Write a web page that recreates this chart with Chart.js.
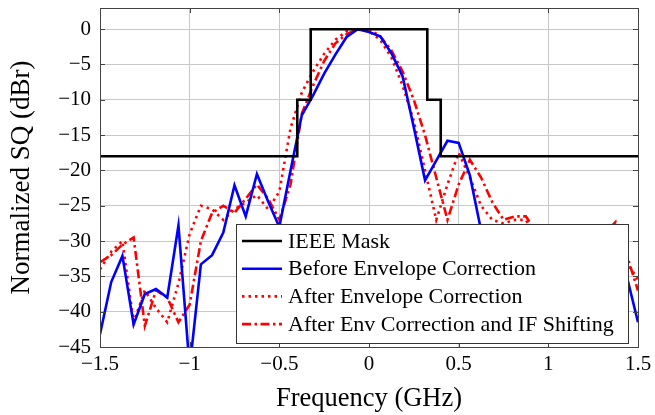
<!DOCTYPE html>
<html>
<head>
<meta charset="utf-8">
<script src="https://cdn.jsdelivr.net/npm/chart.js@4.4.1/dist/chart.umd.min.js"></script>
<style>
html, body { margin: 0; padding: 0; background: #fff; }
#wrap { width: 655px; height: 415px; }
</style>
</head>
<body>
<div id="wrap"><canvas id="chart" width="655" height="415"></canvas></div>
<script>
// frequency grid (GHz), one sample every 62.5 MHz
const freqs = [-1.5, -1.4375, -1.375, -1.3125, -1.25, -1.1875, -1.125, -1.0625,
  -1.0, -0.9375, -0.875, -0.8125, -0.75, -0.6875, -0.625, -0.5625,
  -0.5, -0.4375, -0.375, -0.3125, -0.25, -0.1875, -0.125, -0.0625,
  0, 0.0625, 0.125, 0.1875, 0.25, 0.3125, 0.375, 0.4375,
  0.5, 0.5625, 0.625, 0.6875, 0.75, 0.8125, 0.875, 0.9375,
  1.0, 1.0625, 1.125, 1.1875, 1.25, 1.3125, 1.375, 1.4375, 1.5]

const beforeEnv = [-43.2, -35.8, -32.1, -41.8, -37.5, -36.8, -38.0, -27.8,
  -48.0, -33.3, -32.0, -28.8, -22.1, -26.5, -20.5, -24.4,
  -28.0, -20.0, -12.2, -9.4, -6.3, -3.6, -1.1, 0.0,
  -0.4, -1.0, -3.4, -6.7, -13.9, -21.4, -18.6, -15.8,
  -16.1, -20.7, -28.5, -33.0, -35.0, -34.0, -36.0, -33.0,
  -35.0, -37.0, -34.0, -36.0, -35.0, -33.0, -32.0, -35.0, -41.5]

const afterEnv = [-34.0, -31.5, -30.0, -41.5, -37.0, -39.5, -41.5, -36.0,
  -29.0, -25.0, -25.5, -27.0, -25.5, -24.5, -23.5, -25.5,
  -23.0, -14.0, -9.0, -6.0, -3.5, -1.5, -0.3, 0.0,
  -0.3, -1.5, -4.0, -8.0, -13.0, -20.0, -27.0, -22.0,
  -17.5, -21.0, -25.0, -27.0, -27.5, -27.0, -27.0, -30.0,
  -31.0, -32.0, -31.0, -33.0, -32.0, -31.0, -30.0, -33.0, -35.5]

const afterEnvIf = [-33.0, -32.0, -30.5, -29.5, -42.0, -37.0, -38.0, -41.5,
  -39.0, -30.0, -26.0, -25.0, -26.0, -24.0, -22.0, -24.0,
  -27.0, -22.0, -12.0, -8.0, -4.5, -2.0, -0.7, 0.0,
  0.0, -1.0, -3.0, -6.0, -10.0, -15.0, -21.0, -27.0,
  -22.0, -18.5, -21.0, -24.5, -27.0, -26.5, -26.5, -29.0,
  -30.0, -31.0, -30.0, -31.0, -30.0, -29.0, -27.3, -32.0, -37.0]

// IEEE spectral mask corners
const maskFreq = [-1.5, -0.4, -0.4, -0.325, -0.325, 0.325, 0.325, 0.4, 0.4, 1.5]
const maskLevel = [-18, -18, -10, -10, 0, 0, -10, -10, -18, -18]

const xTicks = [-1.5, -1, -0.5, 0, 0.5, 1, 1.5]
const yTicks = [-45, -40, -35, -30, -25, -20, -15, -10, -5, 0]

const seriesNames = ['IEEE Mask', 'Before Envelope Correction',
  'After Envelope Correction', 'After Env Correction and IF Shifting']

const SERIF = '"Liberation Serif", "DejaVu Serif", serif'
const DOTS = [2.5, 4]
const DASHDOT = [9, 3.5, 2.5, 3.5]

const pts = (xs, ys) => xs.map((x, i) => ({x: x, y: ys[i]}))
const fmt = v => (v < 0 ? '\u2212' : '') + Math.abs(v)

// frame, inner tick marks and the boxed legend, drawn pgfplots-like
const framePlugin = {
  id: 'frame',
  afterDatasetsDraw(chart) {
    const {ctx, chartArea: a, scales} = chart
    ctx.save()
    ctx.strokeStyle = '#444'
    ctx.lineWidth = 1
    ctx.beginPath()
    xTicks.forEach(t => {
      const px = Math.round(scales.x.getPixelForValue(t)) + 0.5
      ctx.moveTo(px, a.bottom); ctx.lineTo(px, a.bottom - 5)
      ctx.moveTo(px, a.top); ctx.lineTo(px, a.top + 5)
    })
    yTicks.forEach(t => {
      const py = Math.round(scales.y.getPixelForValue(t)) + 0.5
      ctx.moveTo(a.left, py); ctx.lineTo(a.left + 5, py)
      ctx.moveTo(a.right, py); ctx.lineTo(a.right - 5, py)
    })
    ctx.stroke()
    ctx.strokeRect(Math.round(a.left) + 0.5, Math.round(a.top) + 0.5,
      Math.round(a.right - a.left), Math.round(a.bottom - a.top))

    // legend
    const lx = 236, ly = 224, lw = 392, lh = 119
    ctx.fillStyle = '#fff'
    ctx.fillRect(lx, ly, lw, lh)
    ctx.strokeStyle = '#333'
    ctx.strokeRect(lx + 0.5, ly + 0.5, lw, lh)
    chart.data.datasets.forEach((ds, i) => {
      const y = ly + 17 + i * 27.7
      ctx.beginPath()
      ctx.strokeStyle = ds.borderColor
      ctx.lineWidth = ds.borderWidth
      ctx.setLineDash(ds.borderDash || [])
      ctx.moveTo(242, y); ctx.lineTo(282, y)
      ctx.stroke()
      ctx.setLineDash([])
      ctx.fillStyle = '#000'
      ctx.font = '22px ' + SERIF
      ctx.textBaseline = 'middle'
      ctx.fillText(seriesNames[i], 288, y + 1)
    })
    ctx.restore()
  }
}

new Chart(document.getElementById('chart'), {
  type: 'line',
  data: {
    datasets: [
      {label: seriesNames[0], data: pts(maskFreq, maskLevel), borderColor: '#000', borderWidth: 2.6},
      {label: seriesNames[1], data: pts(freqs, beforeEnv), borderColor: '#0000ff', borderWidth: 2.6},
      {label: seriesNames[2], data: pts(freqs, afterEnv), borderColor: '#ff0000', borderWidth: 2.6, borderDash: DOTS},
      {label: seriesNames[3], data: pts(freqs, afterEnvIf), borderColor: '#ff0000', borderWidth: 2.6, borderDash: DASHDOT}
    ]
  },
  options: {
    responsive: false,
    devicePixelRatio: 1,
    animation: false,
    layout: {padding: {top: 8, right: 17, left: 0, bottom: 0}},
    elements: {
      point: {radius: 0},
      line: {tension: 0, fill: false, borderJoinStyle: 'miter'}
    },
    plugins: {legend: {display: false}, tooltip: {enabled: false}},
    scales: {
      x: {
        type: 'linear',
        min: -1.5,
        max: 1.5,
        afterBuildTicks: s => { s.ticks = xTicks.map(v => ({value: v})) },
        afterFit: s => { s.height = 68; s.paddingLeft = 0; s.paddingRight = 0 },
        ticks: {callback: fmt, color: '#000', font: {family: SERIF, size: 21}, padding: 5, maxRotation: 0, autoSkip: false},
        grid: {color: '#c8c8c8', lineWidth: 1, drawTicks: false},
        border: {display: false},
        title: {display: true, text: 'Frequency (GHz)', color: '#000', font: {family: SERIF, size: 26.5}, padding: {top: 0, bottom: 0}}
      },
      y: {
        min: -45,
        max: 3,
        afterBuildTicks: s => { s.ticks = yTicks.map(v => ({value: v})) },
        afterFit: s => { s.width = 100; s.paddingTop = 0; s.paddingBottom = 0 },
        ticks: {callback: fmt, color: '#000', font: {family: SERIF, size: 21}, padding: 9, autoSkip: false},
        grid: {color: '#c8c8c8', lineWidth: 1, drawTicks: false},
        border: {display: false},
        title: {display: true, text: 'Normalized SQ (dBr)', color: '#000', font: {family: SERIF, size: 27}, padding: {top: 6, bottom: 0}}
      }
    }
  },
  plugins: [framePlugin]
})
</script>
</body>
</html>
